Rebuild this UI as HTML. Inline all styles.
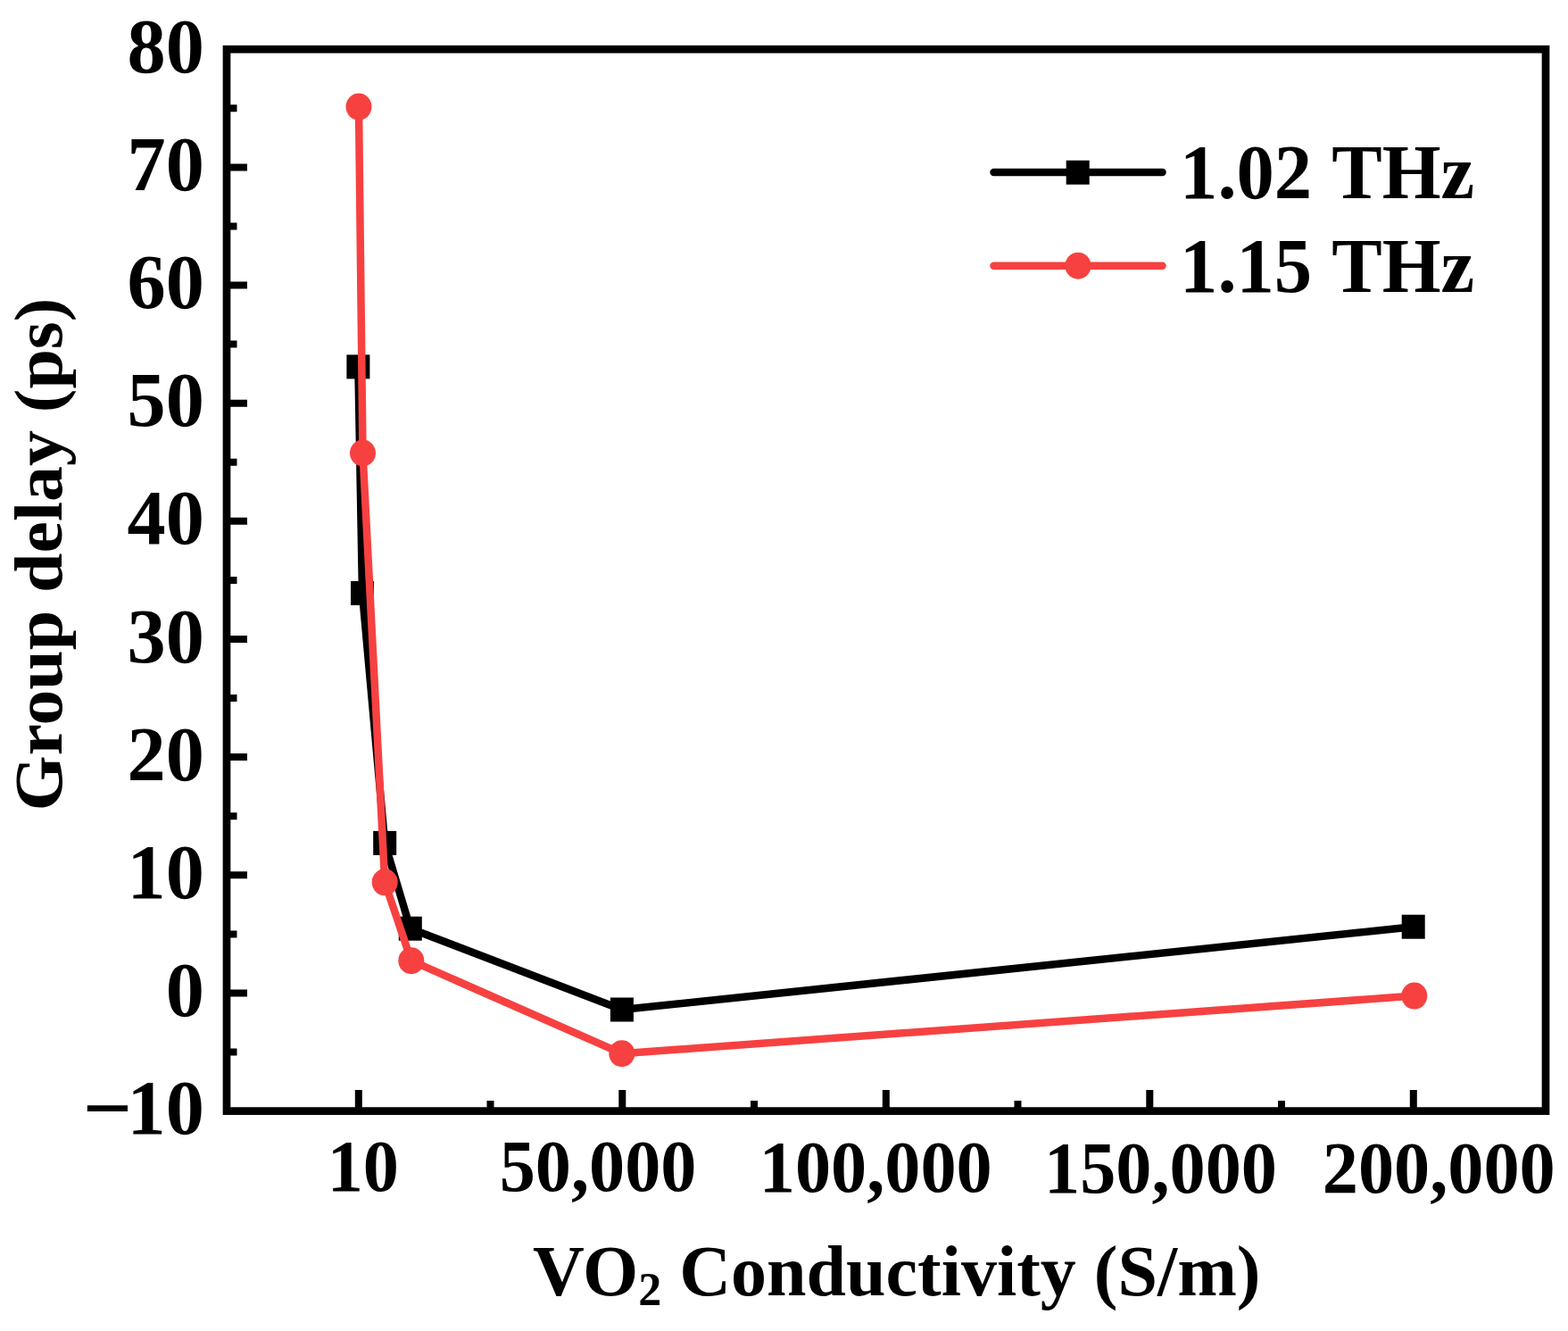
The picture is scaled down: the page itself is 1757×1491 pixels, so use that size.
<!DOCTYPE html><html><head><meta charset="utf-8"><title>Group delay vs VO2 conductivity</title><style>html,body{margin:0;padding:0;background:#fff}svg{display:block}text{font-family:"Liberation Serif","Times New Roman",serif;font-weight:bold;fill:#000}</style></head><body>
<svg width="1757" height="1491" viewBox="0 0 1757 1491">
<rect width="1757" height="1491" fill="#fff"/>
<path d="M254.0 1178.5h11.5 M254.0 1112.4h23.0 M254.0 1046.4h11.5 M254.0 980.3h23.0 M254.0 914.2h11.5 M254.0 848.1h23.0 M254.0 782.1h11.5 M254.0 716.0h23.0 M254.0 649.9h11.5 M254.0 583.8h23.0 M254.0 517.7h11.5 M254.0 451.7h23.0 M254.0 385.6h11.5 M254.0 319.5h23.0 M254.0 253.4h11.5 M254.0 187.4h23.0 M254.0 121.3h11.5 M401.8 1244.6v-23.5 M549.5 1244.6v-11.7 M697.3 1244.6v-23.5 M845.0 1244.6v-11.7 M992.8 1244.6v-23.5 M1140.5 1244.6v-11.7 M1288.3 1244.6v-23.5 M1436.0 1244.6v-11.7 M1583.8 1244.6v-23.5" stroke="#000" stroke-width="8" fill="none"/>
<rect x="254" y="55.2" width="1478.0" height="1189.4" fill="none" stroke="#000" stroke-width="8.7"/>
<text x="228.8" y="1138.0" font-size="86.3" text-anchor="end">0</text>
<text x="228.8" y="1005.9" font-size="86.3" text-anchor="end">10</text>
<text x="228.8" y="873.7" font-size="86.3" text-anchor="end">20</text>
<text x="228.8" y="741.6" font-size="86.3" text-anchor="end">30</text>
<text x="228.8" y="609.4" font-size="86.3" text-anchor="end">40</text>
<text x="228.8" y="477.3" font-size="86.3" text-anchor="end">50</text>
<text x="228.8" y="345.1" font-size="86.3" text-anchor="end">60</text>
<text x="228.8" y="213.0" font-size="86.3" text-anchor="end">70</text>
<text x="228.8" y="80.8" font-size="86.3" text-anchor="end">80</text>
<text y="1270.2" font-size="86.3"><tspan x="92.8" font-size="97.2" dy="3.95">−</tspan><tspan x="142.5" dy="-3.95">10</tspan></text>
<text transform="translate(366.7 1333.5) scale(1 1.035)" font-size="80.3">10</text>
<text transform="translate(559.7 1334) scale(1 1.035)" font-size="80.3">50,000</text>
<text transform="translate(850.8 1335.2) scale(1 1.035)" font-size="80.3">100,000</text>
<text transform="translate(1170 1336) scale(1 1.035)" font-size="80.3">150,000</text>
<text transform="translate(1481.8 1336) scale(1 1.035)" font-size="80.3">200,000</text>
<text transform="translate(68.7 908.6) rotate(-90) scale(1.038 1)" font-size="76.9">Group delay (ps)</text>
<text x="596.9" y="1450.5" font-size="80">VO<tspan font-size="52" dy="11">2</tspan><tspan dy="-11"> Conductivity (S/m)</tspan></text>
<path d="M401.4 410.9 L406.0 664.5 L431.2 944.4 L459.8 1040.2 L696.9 1131.0 L1583.7 1038.2" stroke="#000" stroke-width="8.5" fill="none" stroke-linejoin="round"/>
<rect x="388.4" y="397.4" width="26" height="27" fill="#000"/>
<rect x="393.0" y="651.0" width="26" height="27" fill="#000"/>
<rect x="418.2" y="930.9" width="26" height="27" fill="#000"/>
<rect x="446.8" y="1026.7" width="26" height="27" fill="#000"/>
<rect x="683.9" y="1117.5" width="26" height="27" fill="#000"/>
<rect x="1570.7" y="1024.7" width="26" height="27" fill="#000"/>
<path d="M402.0 119.6 L406.5 507.5 L431.2 988.3 L460.8 1076.2 L696.8 1180.2 L1584.8 1115.6" stroke="#F74141" stroke-width="8.5" fill="none" stroke-linejoin="round"/>
<ellipse cx="402.0" cy="119.6" rx="14.5" ry="15" fill="#F74141"/>
<ellipse cx="406.5" cy="507.5" rx="14.5" ry="15" fill="#F74141"/>
<ellipse cx="431.2" cy="988.3" rx="14.5" ry="15" fill="#F74141"/>
<ellipse cx="460.8" cy="1076.2" rx="14.5" ry="15" fill="#F74141"/>
<ellipse cx="696.8" cy="1180.2" rx="14.5" ry="15" fill="#F74141"/>
<ellipse cx="1584.8" cy="1115.6" rx="14.5" ry="15" fill="#F74141"/>
<path d="M1113.5 192.9H1302.5" stroke="#000" stroke-width="8.5" stroke-linecap="round"/>
<rect x="1194.7" y="179.7" width="26" height="27" fill="#000"/>
<path d="M1113.5 297.8H1302.5" stroke="#F74141" stroke-width="8.5" stroke-linecap="round"/>
<ellipse cx="1208" cy="297.7" rx="14.5" ry="15" fill="#F74141"/>
<text transform="translate(1322.1 222.1) scale(1 1.03)" font-size="84.6">1.02<tspan dx="2.5"> THz</tspan></text>
<text transform="translate(1322.1 326.8) scale(1 1.03)" font-size="84.6">1.15<tspan dx="2.5"> THz</tspan></text>
</svg></body></html>
